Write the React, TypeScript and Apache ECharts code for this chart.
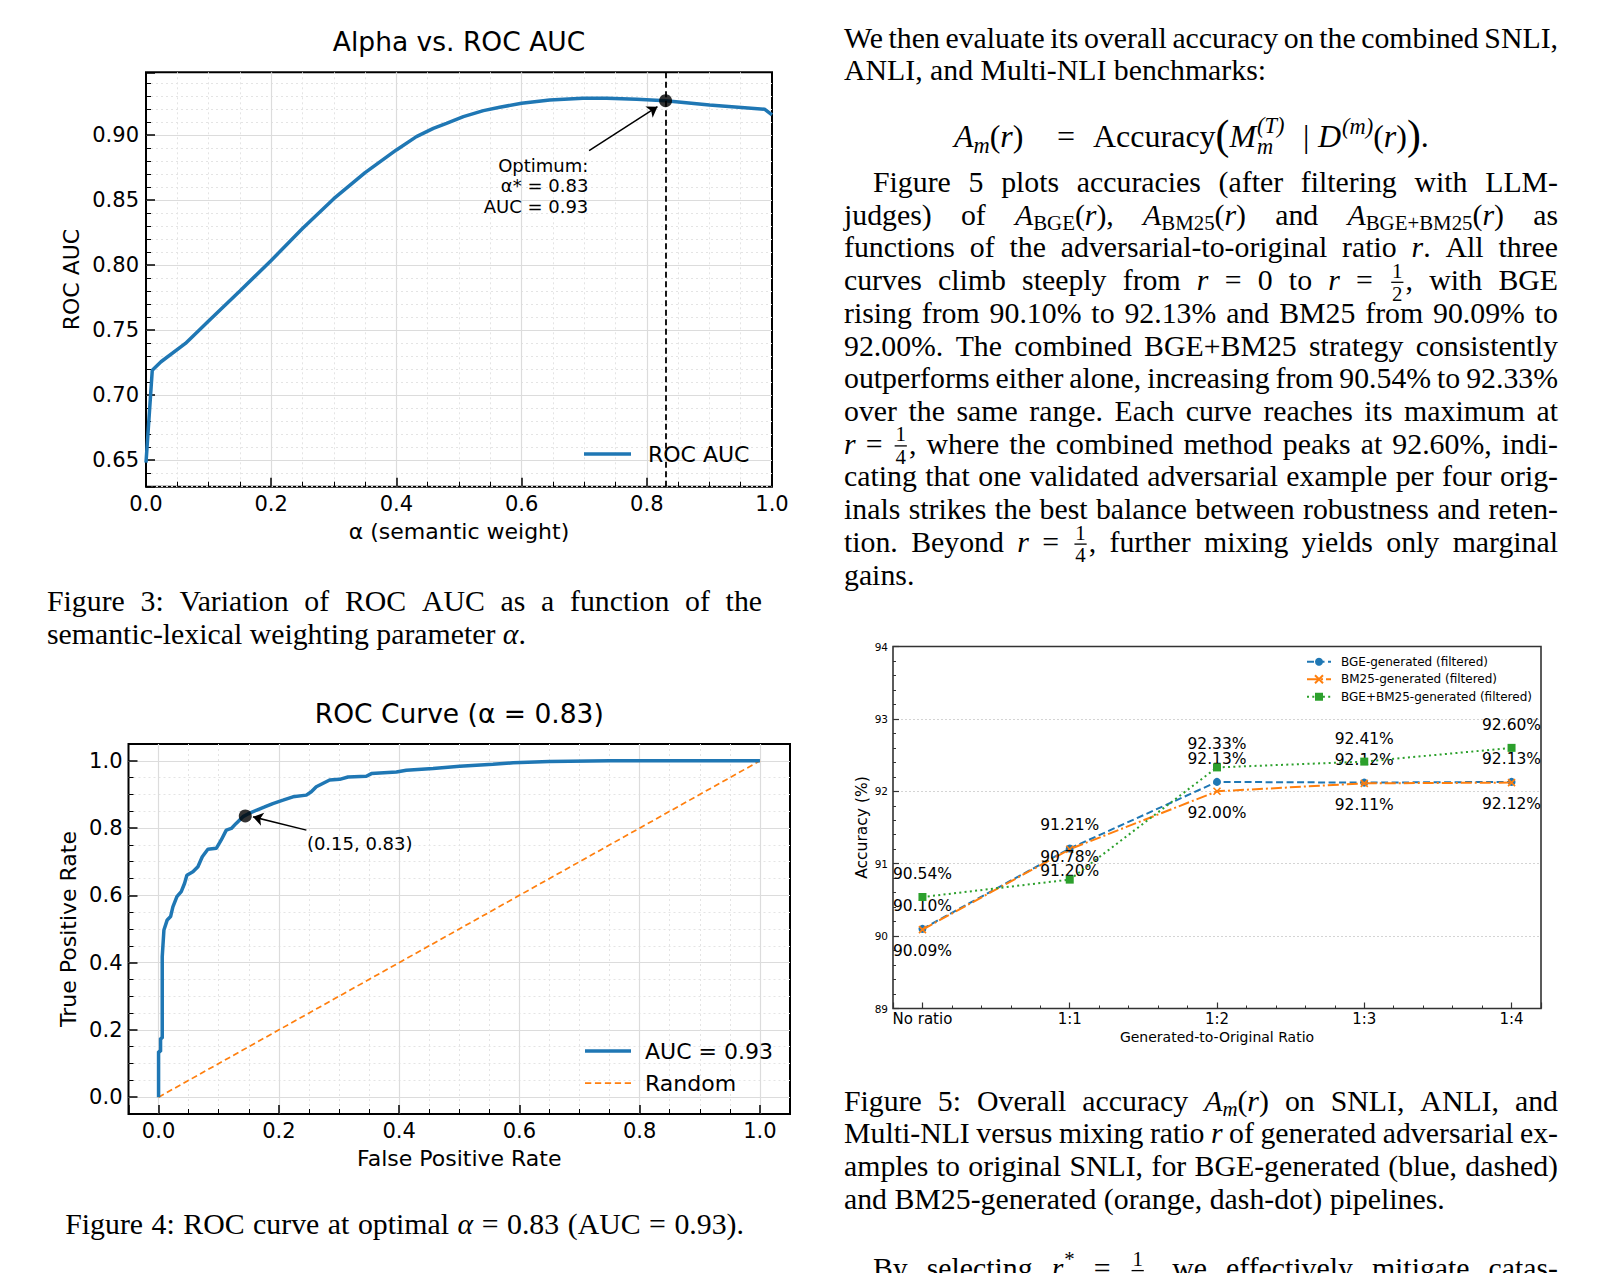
import React, { useEffect, useRef } from "react";
import * as echarts from "echarts";

// ---------------- Figure 3: alpha vs ROC AUC ----------------
const alphaValues = [0, 0.01, 0.024, 0.063, 0.1, 0.15, 0.2, 0.25, 0.3, 0.35, 0.4, 0.432, 0.459, 0.48, 0.507, 0.539, 0.565, 0.6, 0.645, 0.698, 0.736, 0.784, 0.83, 0.9, 0.988, 1.0];
const rocAucValues = [0.648, 0.719, 0.7256, 0.7397, 0.757, 0.78, 0.8035, 0.828, 0.851, 0.871, 0.8885, 0.8987, 0.9051, 0.909, 0.9141, 0.9187, 0.9213, 0.9244, 0.9269, 0.9282, 0.9282, 0.9274, 0.9264, 0.9231, 0.9198, 0.9154];
const optimumPoint = [0.83, 0.9264];
const optimumNote = "Optimum:\nα* = 0.83\nAUC = 0.93";
const optimumNoteAt = [0.7074, 0.861];
const optimumArrowFrom = [0.7078, 0.8879];
const optimumArrowTo = [0.817, 0.9218];

// ---------------- Figure 4: ROC curve ----------------
const fprValues = [0, 0, 0.0033, 0.0033, 0.0061, 0.0061, 0.0089, 0.0144, 0.02, 0.0238, 0.0305, 0.0377, 0.0433, 0.0471, 0.0571, 0.0654, 0.0727, 0.082, 0.096, 0.104, 0.1126, 0.121, 0.129, 0.1403, 0.1486, 0.1625, 0.1764, 0.19, 0.2069, 0.2235, 0.2457, 0.254, 0.2623, 0.2845, 0.3012, 0.315, 0.3455, 0.354, 0.3955, 0.412, 0.4565, 0.5008, 0.556, 0.5896, 0.65, 0.75, 1.0];
const tprValues = [0, 0.136, 0.136, 0.175, 0.175, 0.418, 0.497, 0.527, 0.537, 0.566, 0.596, 0.611, 0.636, 0.66, 0.67, 0.685, 0.715, 0.737, 0.74, 0.764, 0.794, 0.799, 0.814, 0.834, 0.842, 0.853, 0.863, 0.873, 0.883, 0.893, 0.898, 0.908, 0.923, 0.943, 0.945, 0.952, 0.954, 0.962, 0.967, 0.972, 0.977, 0.984, 0.99, 0.994, 0.998, 1.0, 1.0];
const randomX = [0, 1];
const randomY = [0, 1];
const rocPoint = [0.1442, 0.8363];
const rocNote = "(0.15, 0.83)";
const rocNoteAt = [0.2458, 0.7544];
const rocArrowFrom = [0.2458, 0.7939];
const rocArrowTo = [0.1569, 0.8334];

// ---------------- Figure 5: accuracy vs ratio ----------------
const ratioLabels = ["No ratio", "1:1", "1:2", "1:3", "1:4"];
const bgeAccuracy = [90.1, 91.21, 92.13, 92.12, 92.13];
const bm25Accuracy = [90.09, 91.2, 92.0, 92.11, 92.12];
const comboAccuracy = [90.54, 90.78, 92.33, 92.41, 92.6];
const seriesNames = ["BGE-generated (filtered)", "BM25-generated (filtered)", "BGE+BM25-generated (filtered)"];

// ---------------- page text ----------------
type Line = { t: string; y: number; x0: number; x1?: number; mode: "justify" | "left" | "center" | "abs"; xs?: number[]; size?: number; extra?: number };
const RX0 = 844, RX1 = 1558, LX0 = 47, LX1 = 762, IND = 29, DY = 2.5;
const bodyLines: Line[] = [
  { t: "We then evaluate its overall accuracy on the combined SNLI,", y: 44.8, x0: RX0, x1: RX1, mode: "justify" },
  { t: "ANLI, and Multi-NLI benchmarks:", y: 77.5, x0: RX0, mode: "left" },
  { t: "{i:A}{sbi:m}({i:r}) = Accuracy{big:(}{i:M}{ss:(T)|m} | {i:D}{spi:(m)}({i:r}){big:)}.", y: 144, x0: 0, mode: "abs", xs: [954, 1057, 1093, 1303, 1318], size: 32 },
  { t: "Figure 5 plots accuracies (after filtering with LLM-", y: 189.0, x0: RX0 + IND, x1: RX1, mode: "justify" },
  { t: "judges) of {i:A}{sb:BGE}({i:r}), {i:A}{sb:BM25}({i:r}) and {i:A}{sb:BGE+BM25}({i:r}) as", y: 221.7, x0: RX0, x1: RX1, mode: "justify" },
  { t: "functions of the adversarial-to-original ratio {i:r}. All three", y: 254.4, x0: RX0, x1: RX1, mode: "justify" },
  { t: "curves climb steeply from {i:r} = 0 to {i:r} = {fr:1|2}, with BGE", y: 287.2, x0: RX0, x1: RX1, mode: "justify" },
  { t: "rising from 90.10% to 92.13% and BM25 from 90.09% to", y: 319.9, x0: RX0, x1: RX1, mode: "justify" },
  { t: "92.00%. The combined BGE+BM25 strategy consistently", y: 352.6, x0: RX0, x1: RX1, mode: "justify" },
  { t: "outperforms either alone, increasing from 90.54% to 92.33%", y: 385.3, x0: RX0, x1: RX1, mode: "justify" },
  { t: "over the same range. Each curve reaches its maximum at", y: 418.0, x0: RX0, x1: RX1, mode: "justify" },
  { t: "{i:r} = {fr:1|4}, where the combined method peaks at 92.60%, indi-", y: 450.8, x0: RX0, x1: RX1, mode: "justify" },
  { t: "cating that one validated adversarial example per four orig-", y: 483.5, x0: RX0, x1: RX1, mode: "justify" },
  { t: "inals strikes the best balance between robustness and reten-", y: 516.2, x0: RX0, x1: RX1, mode: "justify" },
  { t: "tion. Beyond {i:r} = {fr:1|4}, further mixing yields only marginal", y: 549.0, x0: RX0, x1: RX1, mode: "justify" },
  { t: "gains.", y: 581.7, x0: RX0, mode: "left" },
  { t: "Figure 5: Overall accuracy {i:A}{sbi:m}({i:r}) on SNLI, ANLI, and", y: 1107.6, x0: RX0, x1: RX1, mode: "justify" },
  { t: "Multi-NLI versus mixing ratio {i:r} of generated adversarial ex-", y: 1140.3, x0: RX0, x1: RX1, mode: "justify" },
  { t: "amples to original SNLI, for BGE-generated (blue, dashed)", y: 1173.0, x0: RX0, x1: RX1, mode: "justify" },
  { t: "and BM25-generated (orange, dash-dot) pipelines.", y: 1205.7, x0: RX0, mode: "left" },
  { t: "By selecting {i:r}{sp:*} = {fr:1|4}, we effectively mitigate catas-", y: 1275.5, x0: RX0 + IND, x1: RX1, mode: "justify" },
  { t: "Figure 3: Variation of ROC AUC as a function of the", y: 608.4, x0: LX0, x1: LX1, mode: "justify" },
  { t: "semantic-lexical weighting parameter {i:α}.", y: 641.2, x0: LX0, mode: "left" },
  { t: "Figure 4: ROC curve at optimal {i:α} = 0.83 (AUC = 0.93).", y: 1231.4, x0: 404.6, mode: "center", extra: 1.1 },
];

const SANS = '"DejaVu Sans", sans-serif';
const SERIF = '"Liberation Serif", "Times New Roman", serif';
const BODY = 29.8;
const BLUE = "#1f77b4", ORANGE = "#ff7f0e", GREEN = "#2ca02c";
const DASH_ICON = "path://M0,0L0.01,0L0,0.01Z M0,1h6v2h-6Z M9.5,1h6v2h-6Z M19,1h6v2h-6Z M28.5,1h6v2h-6Z M38,1h6v2h-6Z M44,4L43.99,4L44,3.99Z";

function buildText(): any[] {
  const ctx = document.createElement("canvas").getContext("2d") as CanvasRenderingContext2D;
  const measure = (t: string, size: number, it: boolean) => {
    ctx.font = `${it ? "italic " : ""}${size}px ${SERIF}`;
    return ctx.measureText(t).width;
  };
  const txt = (x: number, base: number, t: string, size: number, it: boolean, align = "left") => ({
    type: "text", x, y: base - 0.3375 * size, silent: true,
    style: { text: t, fontSize: size, fontFamily: SERIF, fontStyle: it ? "italic" : "normal", fill: "#000", align, textAlign: align, verticalAlign: "middle", textVerticalAlign: "middle" },
  });
  type Seg = { k: string; t: string };
  const parse = (tok: string): Seg[] => {
    const out: Seg[] = [];
    const re = /\{(\w+):([^}]*)\}|[^{]+/g;
    let m: RegExpExecArray | null;
    while ((m = re.exec(tok))) out.push(m[1] ? { k: m[1], t: m[2] } : { k: "n", t: m[0] });
    return out;
  };
  const draw = (s: Seg, x: number, base: number, S: number, out: any[] | null): number => {
    const k = s.k;
    if (k === "n" || k === "i") {
      const it = k === "i";
      if (out) out.push(txt(x, base, s.t, S, it));
      return measure(s.t, S, it);
    }
    if (k === "big") {
      const z = S * 1.3;
      if (out) out.push(txt(x, base + 0.09 * S, s.t, z, false));
      return measure(s.t, z, false);
    }
    const z = S * 0.7;
    if (k === "sb" || k === "sbi") {
      const it = k === "sbi";
      if (out) out.push(txt(x, base + 0.2 * S, s.t, z, it));
      return measure(s.t, z, it);
    }
    if (k === "sp" || k === "spi") {
      const it = k === "spi";
      if (out) out.push(txt(x + 1, base - 0.4 * S, s.t, z, it));
      return measure(s.t, z, it) + 1;
    }
    if (k === "ss") {
      const [a, b] = s.t.split("|");
      if (out) {
        out.push(txt(x + 1, base - 0.42 * S, a, z, true));
        out.push(txt(x + 1, base + 0.25 * S, b, z, true));
      }
      return Math.max(measure(a, z, true), measure(b, z, true)) + 1;
    }
    if (k === "fr") {
      const [a, b] = s.t.split("|");
      const w = Math.max(measure(a, z, false), measure(b, z, false)) + 0.2 * S;
      const cx = x + w / 2;
      if (out) {
        out.push(txt(cx, base - 0.4 * S, a, z, false, "center"));
        out.push(txt(cx, base + 0.37 * S, b, z, false, "center"));
        out.push({ type: "rect", silent: true, shape: { x: x + 0.07 * S, y: base - 0.27 * S, width: w - 0.14 * S, height: 1.3 }, style: { fill: "#000" } });
      }
      return w;
    }
    return 0;
  };
  const els: any[] = [];
  for (const ln of bodyLines) {
    const S = ln.size ?? BODY;
    const base = ln.y + DY;
    const toks = ln.t.split(" ").map(parse);
    const widths = toks.map((tk) => tk.reduce((a, s) => a + draw(s, 0, 0, S, null), 0));
    const total = widths.reduce((a, b) => a + b, 0);
    const space = measure(" ", S, false) + (ln.extra ?? 0);
    let gap = space;
    let x = ln.x0;
    if (ln.mode === "justify" && toks.length > 1) gap = ((ln.x1 as number) - ln.x0 - total) / (toks.length - 1);
    if (ln.mode === "center") x = ln.x0 - (total + space * (toks.length - 1)) / 2;
    toks.forEach((tk, i) => {
      if (ln.mode === "abs" && ln.xs) x = ln.xs[i];
      let cx = x;
      tk.forEach((s) => { cx += draw(s, cx, base, S, els); });
      x += widths[i] + gap;
    });
  }
  return els;
}

function bigAxis(o: any) {
  return {
    type: "value",
    gridIndex: o.grid,
    min: o.min, max: o.max, minInterval: o.step, maxInterval: o.step,
    axisLine: { show: false, onZero: false },
    axisTick: { show: true, inside: true, length: 9, lineStyle: { color: "#000", width: 1.5 } },
    minorTick: { show: true, splitNumber: o.minor, length: 5, lineStyle: { color: "#000", width: 1 } },
    axisLabel: { color: "#000", fontSize: 21, fontFamily: SANS, margin: o.margin, formatter: (v: number) => v.toFixed(o.dec), showMinLabel: o.ends, showMaxLabel: o.ends },
    splitLine: { show: true, showMinLine: false, showMaxLine: false, lineStyle: { color: "#dcdcdc", width: 1.2 } },
    minorSplitLine: { show: true, lineStyle: { color: "#e4e4e4", width: 1, type: [2, 3] } },
    name: o.name, nameLocation: "middle", nameGap: o.nameGap,
    nameTextStyle: { color: "#000", fontSize: 22, fontFamily: SANS },
  };
}

function smallAxis(o: any) {
  return {
    type: "value",
    gridIndex: 2,
    min: o.min, max: o.max, minInterval: 1, maxInterval: 1,
    axisLine: { show: false, onZero: false },
    axisTick: { show: true, inside: true, length: 6, lineStyle: { color: "#333", width: 1.2 } },
    minorTick: { show: true, splitNumber: 5, length: 3, lineStyle: { color: "#333", width: 1 } },
    axisLabel: { color: "#000", fontSize: o.fs, fontFamily: SANS, margin: o.margin, formatter: o.fmt, showMinLabel: o.ends, showMaxLabel: o.ends },
    splitLine: o.split ? { show: true, showMinLine: false, showMaxLine: false, lineStyle: { color: "#cfcfcf", width: 0.9, type: [2, 2] } } : { show: false },
    minorSplitLine: { show: false },
    name: o.name, nameLocation: "middle", nameGap: o.nameGap,
    nameTextStyle: { color: "#000", fontSize: o.nfs, fontFamily: SANS },
  };
}

function buildOption(): any {
  const pairs = (xs: number[], ys: number[]) => xs.map((x, i) => [x, ys[i]]);
  const idx = ratioLabels.map((_, i) => i);
  const accLabel = (pos: string, dist: number) => ({
    show: true, position: pos, distance: dist, fontSize: 15.5, fontFamily: SANS, color: "#000",
    formatter: (p: any) => p.value[1].toFixed(2) + "%",
  });
  const arrow = (from: number[], to: number[]) => ({
    silent: true, symbol: ["none", "arrow"], symbolSize: 10, label: { show: false },
    lineStyle: { color: "#000", width: 1.5, type: "solid" },
    data: [[{ coord: from }, { coord: to }]],
  });
  const note = (at: number[], text: string, pos: string) => ({
    silent: true, symbol: "circle", symbolSize: 1, itemStyle: { color: "rgba(0,0,0,0)" },
    label: { show: true, position: pos, distance: 0, formatter: text, color: "#000", fontSize: 18, lineHeight: 20.5, fontFamily: SANS, align: pos === "left" ? "right" : "left" },
    data: [{ coord: at }],
  });
  const legendText = (pad: number) => ({ fontSize: 22, lineHeight: 26, color: "#000", fontFamily: SANS, padding: [0, 0, 0, pad] });
  return {
    animation: false,
    backgroundColor: "#fff",
    grid: [
      { left: 146, top: 72.3, width: 626, height: 414.4, show: true, borderColor: "#000", borderWidth: 2, backgroundColor: "transparent", containLabel: false, outerBoundsMode: "none" },
      { left: 128.5, top: 744, width: 661.5, height: 370, show: true, borderColor: "#000", borderWidth: 2, backgroundColor: "transparent", containLabel: false, outerBoundsMode: "none" },
      { left: 893, top: 646.5, width: 648, height: 362, show: true, borderColor: "#333", borderWidth: 1.6, backgroundColor: "transparent", containLabel: false, outerBoundsMode: "none" },
    ],
    xAxis: [
      bigAxis({ grid: 0, min: 0, max: 1, step: 0.2, minor: 4, margin: 6.5, dec: 1, ends: true, name: "α (semantic weight)", nameGap: 34 }),
      bigAxis({ grid: 1, min: -0.05, max: 1.05, step: 0.2, minor: 4, margin: 6.5, dec: 1, ends: false, name: "False Positive Rate", nameGap: 33 }),
      smallAxis({ min: -0.2, max: 4.2, fs: 15, margin: 3, ends: false, split: false, name: "Generated-to-Original Ratio", nameGap: 21, nfs: 14, fmt: (v: number) => ratioLabels[Math.round(v)] ?? "" }),
    ],
    yAxis: [
      bigAxis({ grid: 0, min: 0.6295, max: 0.9482, step: 0.05, minor: 5, margin: 7, dec: 2, ends: false, name: "ROC AUC", nameGap: 64 }),
      bigAxis({ grid: 1, min: -0.05, max: 1.05, step: 0.2, minor: 4, margin: 6, dec: 1, ends: false, name: "True Positive Rate", nameGap: 49 }),
      smallAxis({ min: 89, max: 94, fs: 10.5, margin: 5, ends: true, split: true, name: "Accuracy (%)", nameGap: 23, nfs: 15.5, fmt: (v: number) => String(v) }),
    ],
    legend: [
      { data: [{ name: "ROC AUC", icon: "rect" }], left: 584, top: 441, padding: 0, itemWidth: 47, itemHeight: 3.5, selectedMode: false, symbolKeepAspect: false, textStyle: legendText(12) },
      { data: [{ name: "AUC = 0.93", icon: "rect" }, { name: "Random", icon: DASH_ICON }], orient: "vertical", left: 585, top: 1038, padding: 0, itemWidth: 46, itemHeight: 3.5, itemGap: 6, selectedMode: false, symbolKeepAspect: false, textStyle: legendText(9) },
      { data: seriesNames, orient: "vertical", left: 1306, top: 654.5, padding: 0, itemWidth: 24, itemHeight: 10, itemGap: 3, selectedMode: false, textStyle: { fontSize: 12, lineHeight: 14.5, color: "#000", fontFamily: SANS, padding: [0, 0, 0, 5] } },
    ],
    series: [
      {
        name: "ROC AUC", type: "line", xAxisIndex: 0, yAxisIndex: 0, data: pairs(alphaValues, rocAucValues),
        symbol: "none", showSymbol: false, lineStyle: { color: BLUE, width: 3.5 }, itemStyle: { color: BLUE }, z: 3,
        markLine: { silent: true, symbol: ["none", "none"], label: { show: false }, lineStyle: { color: "#000", width: 1.8, type: [6, 3.5] }, data: [{ xAxis: optimumPoint[0] }] },
      },
      {
        name: "optimum", type: "scatter", xAxisIndex: 0, yAxisIndex: 0, data: [optimumPoint], symbolSize: 13, itemStyle: { color: "#000" }, z: 6,
        markLine: arrow(optimumArrowFrom, optimumArrowTo),
        markPoint: note(optimumNoteAt, optimumNote, "left"),
      },
      {
        name: "AUC = 0.93", type: "line", xAxisIndex: 1, yAxisIndex: 1, data: pairs(fprValues, tprValues),
        symbol: "none", showSymbol: false, lineStyle: { color: BLUE, width: 3.5 }, itemStyle: { color: BLUE }, z: 3,
      },
      {
        name: "Random", type: "line", xAxisIndex: 1, yAxisIndex: 1, data: pairs(randomX, randomY),
        symbol: "none", showSymbol: false, lineStyle: { color: ORANGE, width: 1.7, type: [6, 3.5] }, itemStyle: { color: ORANGE }, z: 2,
      },
      {
        name: "rocpoint", type: "scatter", xAxisIndex: 1, yAxisIndex: 1, data: [rocPoint], symbolSize: 13, itemStyle: { color: "#000" }, z: 6,
        markLine: arrow(rocArrowFrom, rocArrowTo),
        markPoint: note(rocNoteAt, rocNote, "right"),
      },
      {
        name: seriesNames[0], type: "line", xAxisIndex: 2, yAxisIndex: 2, data: pairs(idx, bgeAccuracy),
        symbol: "circle", symbolSize: 8, lineStyle: { color: BLUE, width: 2, type: [7, 3.5] }, itemStyle: { color: BLUE }, label: accLabel("top", 11), z: 3,
      },
      {
        name: seriesNames[1], type: "line", xAxisIndex: 2, yAxisIndex: 2, data: pairs(idx, bm25Accuracy),
        symbol: "path://M0,0L10,10M0,10L10,0", symbolSize: 7, lineStyle: { color: ORANGE, width: 2, type: [11, 3, 2, 3] },
        itemStyle: { color: ORANGE, borderColor: ORANGE, borderWidth: 1.6 }, label: accLabel("bottom", 9.5), z: 4,
      },
      {
        name: seriesNames[2], type: "line", xAxisIndex: 2, yAxisIndex: 2, data: pairs(idx, comboAccuracy),
        symbol: "rect", symbolSize: 8, lineStyle: { color: GREEN, width: 2, type: [2, 3.3] }, itemStyle: { color: GREEN }, label: accLabel("top", 11), z: 5,
      },
    ],
    graphic: {
      elements: [
        { type: "text", x: 459, y: 41.5, silent: true, style: { text: "Alpha vs. ROC AUC", fontSize: 26.5, fontFamily: SANS, fill: "#000", align: "center", textAlign: "center", verticalAlign: "middle", textVerticalAlign: "middle" } },
        { type: "text", x: 459.3, y: 713.1, silent: true, style: { text: "ROC Curve (α = 0.83)", fontSize: 26.5, fontFamily: SANS, fill: "#000", align: "center", textAlign: "center", verticalAlign: "middle", textVerticalAlign: "middle" } },
        ...buildText(),
      ],
    },
  };
}

export default function App() {
  const ref = useRef<HTMLDivElement>(null);
  useEffect(() => {
    const chart = echarts.init(ref.current as HTMLDivElement, null, { renderer: "svg" });
    chart.setOption(buildOption());
    return () => chart.dispose();
  }, []);
  return <div ref={ref} style={{ position: "absolute", left: 0, top: 0, width: 1604, height: 1273, background: "#fff" }} />;
}
